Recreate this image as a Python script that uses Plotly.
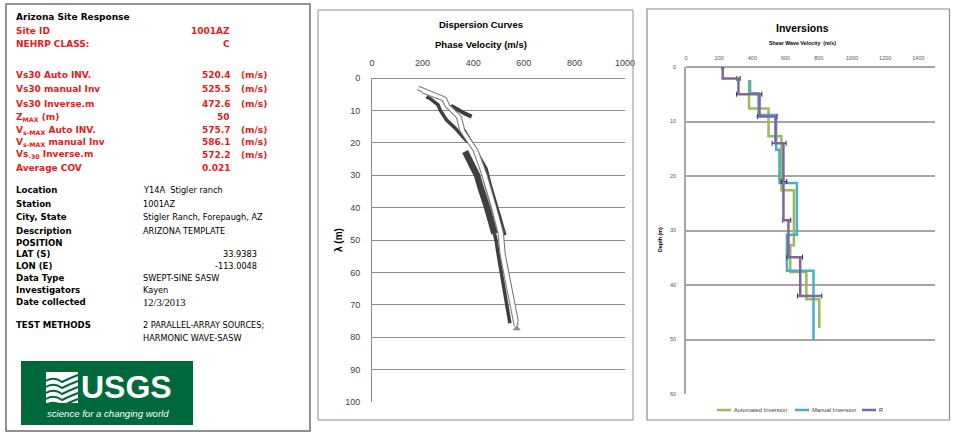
import plotly.graph_objects as go

W, H = 956, 433

# ---------------- Left panel text data ----------------
panel_title = "Arizona Site Response"
red_labels = ["Site ID", "NEHRP CLASS:", "Vs30 Auto INV.", "Vs30 manual Inv", "Vs30 Inverse.m",
              "Z<sub>MAX</sub> (m)", "V<sub>s-MAX</sub> Auto INV.", "V<sub>s-MAX</sub> manual Inv",
              "Vs<sub>-30</sub> Inverse.m", "Average COV"]
red_values = ["1001AZ", "C", "520.4", "525.5", "472.6", "50", "575.7", "586.1", "572.2", "0.021"]
red_units = ["", "", "(m/s)", "(m/s)", "(m/s)", "", "(m/s)", "(m/s)", "(m/s)", ""]

info_labels = ["Location", "Station", "City, State", "Description", "POSITION", "LAT (S)", "LON (E)",
               "Data Type", "Investigators", "Date collected", "TEST METHODS", ""]
info_values = ["Y14A\u00a0\u00a0Stigler ranch", "1001AZ", "Stigler Ranch, Forepaugh, AZ", "ARIZONA TEMPLATE", "",
               "33.9383", "-113.0048", "SWEPT-SINE SASW", "Kayen", "12/3/2013",
               "2 PARALLEL-ARRAY SOURCES;", "HARMONIC WAVE-SASW"]

logo_text = "USGS"
logo_tagline = "science for a changing world"

# ---------------- Dispersion curves data ----------------
disp_x_ticks = [0, 200, 400, 600, 800, 1000]
disp_y_ticks = [0, 10, 20, 30, 40, 50, 60, 70, 80, 90, 100]

white1_lam = [3.1, 6.3, 8.3, 11.9, 16.0, 22.2, 29.4, 39.7, 47.9, 54.0, 64.4, 74.7, 76.5]
white1_vel = [182, 282, 295, 341, 354, 407, 440, 479, 506, 513, 539, 565, 570]
white2_lam = [4.0, 6.6, 8.7, 12.2, 16.5, 22.6, 29.8, 40.0, 48.0, 54.5, 64.8, 75.2]
white2_vel = [200, 288, 300, 346, 360, 412, 446, 485, 512, 519, 545, 571]

darkA_lam = [5.8, 6.3, 8.3, 10.0, 13.0, 15.4, 18.2, 19.8]
darkA_vel = [215, 229, 261, 270, 295, 328, 360, 379]
darkT_lam = [8.6, 10.2, 11.0, 11.9]
darkT_vel = [312, 345, 368, 394]
darkB_lam = [22.7, 25.0, 28.0, 30.0, 33.5, 36.0, 40.0, 43.0, 46.0, 48.0]
darkB_vel = [368, 385, 405, 415, 428, 440, 455, 466, 478, 484]
darkL_lam = [48.0, 50.0, 55.0, 62.3, 66.0, 71.0, 75.7]
darkL_vel = [484, 490, 500, 515, 525, 536, 545]
darkC_lam = [16, 20, 24, 28, 33, 38, 43, 48.5]
darkC_vel = [364, 394, 422, 452, 468, 488, 506, 526]
end_lam = [77.3]
end_vel = [572]

# ---------------- Inversions data ----------------
inv_x_ticks = [0, 200, 400, 600, 800, 1000, 1200, 1400]
inv_y_ticks = [0, 10, 20, 30, 40, 50, 60]

auto_vel = [380, 497, 575, 650, 628, 725, 803, 803]
auto_depth = [2.4, 7.6, 12.7, 22.6, 32.7, 37.6, 42.6, 47.9]
manual_vel = [386, 437, 543, 563, 668, 608, 768, 768]
manual_depth = [2.4, 4.8, 8.8, 15.2, 21.3, 30.8, 37.4, 50.1]
r_vel = [221, 316, 443, 539, 587, 617, 688, 809]
r_depth = [0, 2.1, 5.0, 9.1, 14.0, 28.1, 34.9, 42.0]
err_depth = [0, 2.1, 5.0, 9.1, 14.0, 21.0, 28.1, 34.9, 42.0]
err_center = [221, 316, 381, 489, 561, 590, 606, 655, 745]
err_half = [6, 10, 76, 59, 42, 17, 25, 47, 73]

series_names = ["Automated Inversion", "Manual Inversion", "R"]
series_colors = ["#9bbb59", "#4bacc6", "#8064a2"]


def px(x):
    return x / W


def py(y):
    return 1 - y / H


fig = go.Figure()

# ---- dispersion traces ----
DARK = "#3f3f3f"
for lam, vel, wd in [(darkA_lam, darkA_vel, 3.5), (darkT_lam, darkT_vel, 4),
                     (darkB_lam, darkB_vel, 6.5), (darkL_lam, darkL_vel, 3.5),
                     (darkC_lam, darkC_vel, 3)]:
    fig.add_trace(go.Scatter(x=vel, y=lam, mode="lines", line=dict(color=DARK, width=wd),
                             showlegend=False, hoverinfo="skip", xaxis="x", yaxis="y"))
for lam, vel in [(white1_lam, white1_vel), (white2_lam, white2_vel)]:
    fig.add_trace(go.Scatter(x=vel, y=lam, mode="lines", line=dict(color="#7a7a7a", width=5),
                             showlegend=False, hoverinfo="skip", xaxis="x", yaxis="y"))
for lam, vel in [(white1_lam, white1_vel), (white2_lam, white2_vel)]:
    fig.add_trace(go.Scatter(x=vel, y=lam, mode="lines", line=dict(color="white", width=2.8),
                             showlegend=False, hoverinfo="skip", xaxis="x", yaxis="y"))
fig.add_trace(go.Scatter(x=end_vel, y=end_lam, mode="markers",
                         marker=dict(symbol="triangle-up", size=7, color="#8a8a8a"),
                         showlegend=False, hoverinfo="skip", xaxis="x", yaxis="y"))

# ---- inversion traces ----
for vel, dep, name, col in [(auto_vel, auto_depth, series_names[0], series_colors[0]),
                            (manual_vel, manual_depth, series_names[1], series_colors[1])]:
    fig.add_trace(go.Scatter(x=vel, y=dep, mode="lines", name=name, showlegend=False,
                             line=dict(color=col, width=2.5, shape="vh"),
                             xaxis="x2", yaxis="y2"))
fig.add_trace(go.Scatter(x=err_center, y=err_depth, mode="markers",
                         marker=dict(size=3, opacity=0),
                         error_x=dict(type="data", array=err_half, symmetric=True,
                                      color="#2a2a2a", thickness=1, width=2.5),
                         showlegend=False, hoverinfo="skip", xaxis="x2", yaxis="y2"))
fig.add_trace(go.Scatter(x=r_vel, y=r_depth, mode="lines", name=series_names[2], showlegend=False,
                         line=dict(color=series_colors[2], width=2.5, shape="vh"),
                         xaxis="x2", yaxis="y2"))

ann = []


def add_text(x, y, text, size=9, color="black", xanchor="left", family="DejaVu Sans", angle=0):
    ann.append(dict(x=px(x), y=py(y), xref="paper", yref="paper", text=text, showarrow=False,
                    xanchor=xanchor, yanchor="middle", textangle=angle,
                    font=dict(size=size, color=color, family=family)))


RED = "#e3201b"
add_text(14, 17, "<b>" + panel_title + "</b>", size=9)
red_rows = [31, 44, 75, 89, 104, 117, 130, 142, 155, 168]
for yy, lab, val, unit in zip(red_rows, red_labels, red_values, red_units):
    add_text(14, yy, "<b>" + lab + "</b>", size=9, color=RED)
    add_text(232, yy, "<b>" + val + "</b>", size=9, color=RED, xanchor="right")
    if unit:
        add_text(239, yy, "<b>" + unit + "</b>", size=9, color=RED)

info_rows = [190, 204.5, 217, 231, 242.5, 254, 266, 278, 289.5, 302, 325, 338]
for i, (yy, lab, val) in enumerate(zip(info_rows, info_labels, info_values)):
    if lab:
        add_text(14, yy, "<b>" + lab + "</b>", size=8.6)
    if not val:
        continue
    if lab in ("LAT (S)", "LON (E)"):
        add_text(259, yy, val, size=8.2, xanchor="right")
    elif lab == "Date collected":
        add_text(141, yy, val, size=10.5, family="Liberation Serif")
    else:
        add_text(141, yy, val, size=8.2)

# logo
add_text(79, 387, "<b>" + logo_text + "</b>", size=32, color="white", family="Liberation Sans")
add_text(45, 413, "<i>" + logo_tagline + "</i>", size=9.6, color="white", family="Liberation Sans")

# dispersion titles
add_text(481, 25, "<b>Dispersion Curves</b>", size=9.5, xanchor="center", family="Liberation Sans")
add_text(481, 44, "<b>Phase Velocity (m/s)</b>", size=9.5, xanchor="center", family="Liberation Sans")
add_text(339, 240, "<b>λ (m)</b>", size=10, xanchor="center", family="Liberation Sans", angle=-90)

# inversion titles
add_text(802, 28, "<b>Inversions</b>", size=10.5, xanchor="center", family="Liberation Sans")
add_text(802, 43, "<b>Shear Wave Velocity  (m/s)</b>", size=5.3, xanchor="center", family="Liberation Sans")
add_text(660, 240, "<b>Depth (m)</b>", size=5.3, xanchor="center", family="Liberation Sans", angle=-90)

shapes = []
# panel borders
shapes.append(dict(type="rect", xref="paper", yref="paper", x0=px(6), x1=px(310), y0=py(431), y1=py(4),
                   line=dict(color="#6e6e6e", width=1.5)))
shapes.append(dict(type="rect", xref="paper", yref="paper", x0=px(318), x1=px(633), y0=py(420), y1=py(10),
                   line=dict(color="#8c8c8c", width=1)))
shapes.append(dict(type="rect", xref="paper", yref="paper", x0=px(647), x1=px(949.5), y0=py(420), y1=py(9),
                   line=dict(color="#8c8c8c", width=1.2)))
# USGS logo
shapes.append(dict(type="rect", xref="paper", yref="paper", x0=px(21), x1=px(193), y0=py(425), y1=py(361),
                   fillcolor="#00693c", line=dict(width=0)))
shapes.append(dict(type="rect", xref="paper", yref="paper", x0=px(46), x1=px(78), y0=py(403), y1=py(372),
                   fillcolor="white", line=dict(width=0)))


def wave(y0):
    pts = [(46, y0), (54, y0 - 5), (62, y0 + 1), (70, y0 - 3), (78, y0 - 6)]
    s = "M %f,%f" % (px(pts[0][0]), py(pts[0][1]))
    s += " Q %f,%f %f,%f" % (px(pts[1][0]), py(pts[1][1]), px(pts[2][0]), py(pts[2][1]))
    s += " Q %f,%f %f,%f" % (px(pts[3][0]), py(pts[3][1]), px(pts[4][0]), py(pts[4][1]))
    return s


for yy in [381, 387, 393, 399, 405]:
    shapes.append(dict(type="path", xref="paper", yref="paper", path=wave(yy),
                       line=dict(color="#00693c", width=2)))

# manual legend for inversions
legend_line_x = [717, 795, 862]
legend_y = 410
for lx, name, col in zip(legend_line_x, series_names, series_colors):
    shapes.append(dict(type="line", xref="paper", yref="paper", x0=px(lx), x1=px(lx + 14),
                       y0=py(legend_y), y1=py(legend_y), line=dict(color=col, width=2.5)))
    add_text(lx + 14.5, legend_y, name, size=5.8, color="#404040", family="Liberation Sans")

TICKF = dict(size=9, family="Liberation Sans", color="#404040")
SMALLF = dict(size=5.5, family="Liberation Sans", color="#555555")

fig.update_layout(
    width=W, height=H, margin=dict(l=0, r=0, t=0, b=0, autoexpand=False), autosize=False,
    paper_bgcolor="white", plot_bgcolor="white", showlegend=False,
    annotations=ann, shapes=shapes,
    xaxis=dict(domain=[px(372), px(625)], range=[0, 1000], side="top", tickvals=disp_x_ticks,
               showgrid=False, zeroline=False, showline=False, ticks="", tickfont=TICKF,
               ticklabelstandoff=9, fixedrange=True),
    yaxis=dict(domain=[py(402), py(78)], range=[100, 0], tickvals=disp_y_ticks, showgrid=True,
               gridcolor="#8c8c8c", gridwidth=1, zeroline=True, zerolinecolor="#8c8c8c", zerolinewidth=1,
               showline=True, linecolor="#8c8c8c", linewidth=1, ticks="", tickfont=TICKF,
               ticklabelstandoff=9, fixedrange=True),
    xaxis2=dict(domain=[px(686), px(935)], range=[0, 1500], side="top", anchor="y2", tickvals=inv_x_ticks,
                showgrid=False, zeroline=False, showline=False, ticks="", tickfont=SMALLF,
                ticklabelstandoff=5, fixedrange=True),
    yaxis2=dict(domain=[py(394), py(67)], range=[60, 0], anchor="x2", tickvals=inv_y_ticks, showgrid=True,
                gridcolor="#a6a6a6", gridwidth=1.5, zeroline=True, zerolinecolor="#a6a6a6", zerolinewidth=1.5,
                showline=True, linecolor="#a6a6a6", linewidth=1.5, ticks="", tickfont=SMALLF,
                ticklabelstandoff=7, fixedrange=True),
)

fig.write_html("out.html")
